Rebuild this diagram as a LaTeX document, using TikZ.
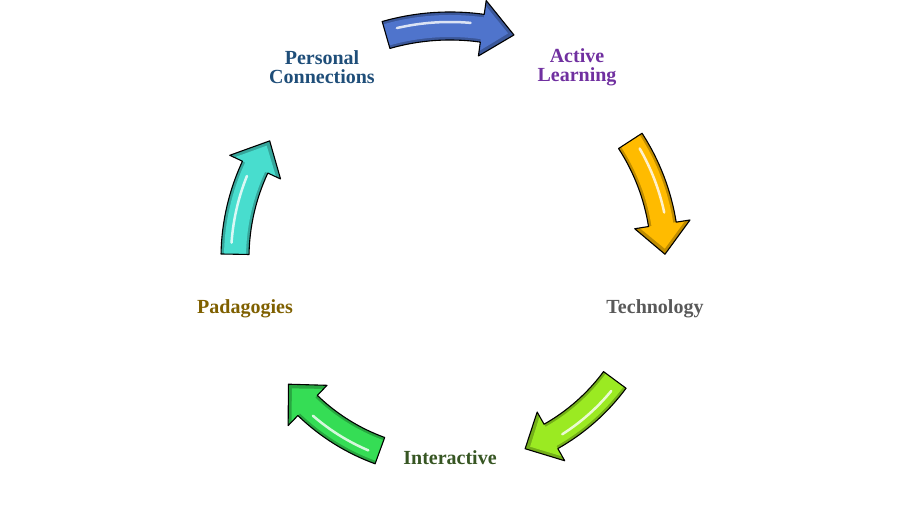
\documentclass[tikz,border=0pt]{standalone}
\usepackage{fontspec}
\setmainfont{Liberation Serif}
\begin{document}
\begin{tikzpicture}[x=1pt,y=1pt,
  lab/.style={font=\fontsize{20}{19}\selectfont\bfseries,align=center},
  arr/.style={draw=black,line width=1.1pt,line join=round}]
\useasboundingbox (0,0) rectangle (900,526);
\newcommand\carrow[3]{%
 \begin{scope}[shift={(450,268)}]
 \def\R{#3}
 \pgfmathsetmacro\ta{#1+16}\pgfmathsetmacro\tb{#1-8}\pgfmathsetmacro\tc{#1-16}
 \fill[#2!75!black] (\ta:\R+14) arc[start angle=\ta,end angle=\tb,radius=\R+14]
   -- (\tb:\R+28) -- (\tc:\R) -- (\tb:\R-28) -- (\tb:\R-14)
   arc[start angle=\tb,end angle=\ta,radius=\R-14] -- cycle;
 \fill[#2] (\ta:\R+11) arc[start angle=\ta,end angle=\tb,radius=\R+11]
   -- (\tb:\R+23) -- (\tc+1.5:\R) -- (\tb:\R-23) -- (\tb:\R-11)
   arc[start angle=\tb,end angle=\ta,radius=\R-11] -- cycle;
 \draw[white,line width=2.5pt,line cap=round,opacity=.8] (\ta-3:\R+4) arc[start angle=\ta-3,end angle=\tb+3,radius=\R+4];
 \draw[arr] (\ta:\R+14) arc[start angle=\ta,end angle=\tb,radius=\R+14]
   -- (\tb:\R+28) -- (\tc:\R) -- (\tb:\R-28) -- (\tb:\R-14)
   arc[start angle=\tb,end angle=\ta,radius=\R-14] -- cycle;
 \end{scope}}
\definecolor{cblue}{HTML}{4F74CC}
\definecolor{cyel}{HTML}{FFBB00}
\definecolor{clime}{HTML}{9BEA22}
\definecolor{cgreen}{HTML}{35DD55}
\definecolor{ccyan}{HTML}{48DDCE}
\carrow{90}{cblue}{232}
\carrow{17}{cyel}{215}
\carrow{-52.5}{clime}{205}
\carrow{-126}{cgreen}{205}
\carrow{163}{ccyan}{215}
\node[lab,text={rgb,255:red,31;green,78;blue,121}] (pc) at (322,459) {Personal\\Connections};
\node[lab,text={rgb,255:red,112;green,48;blue,160}] (al) at (577,459) {Active\\Learning};
\node[lab,text={rgb,255:red,89;green,89;blue,89}] (te) at (655,217) {Technology};
\node[lab,text={rgb,255:red,55;green,86;blue,35}] (in) at (450,68) {Interactive};
\node[lab,text={rgb,255:red,127;green,96;blue,0}] (pa) at (245,217) {Padagogies};
\end{tikzpicture}
\end{document}
